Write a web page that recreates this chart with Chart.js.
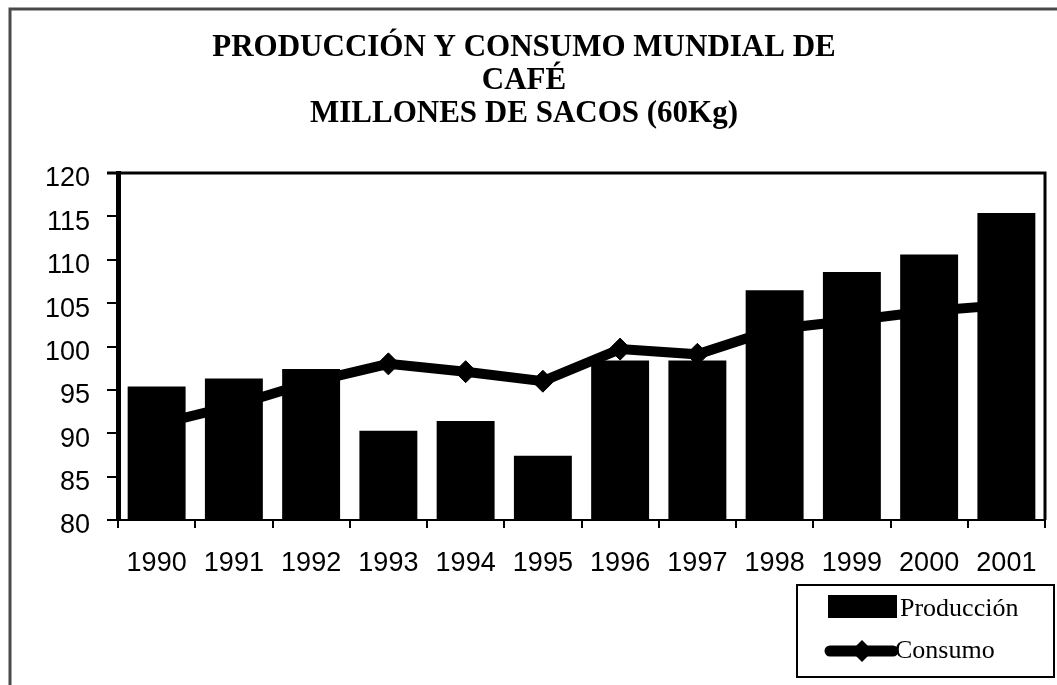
<!DOCTYPE html>
<html>
<head>
<meta charset="utf-8">
<title>Producción y consumo mundial de café</title>
<script src="https://cdn.jsdelivr.net/npm/chart.js"></script>
<style>
  html, body { margin: 0; padding: 0; background: #fff; }
  #wrap { position: relative; width: 1057px; height: 685px; }
</style>
</head>
<body>
<div id="wrap"><canvas id="chart"></canvas></div>
<script>
const years = ['1990', '1991', '1992', '1993', '1994', '1995', '1996', '1997', '1998', '1999', '2000', '2001'];
const produccion = [95.4, 96.3, 97.4, 90.3, 91.4, 87.4, 98.4, 98.4, 106.5, 108.6, 110.6, 115.4];
const consumo = [91.0, 93.2, 95.9, 98.0, 97.1, 96.0, 99.7, 99.1, 102.0, 103.0, 104.1, 104.8];
const yTicks = [80, 85, 90, 95, 100, 105, 110, 115, 120];
const titleLines = ['PRODUCCIÓN Y CONSUMO MUNDIAL DE', 'CAFÉ', 'MILLONES DE SACOS (60Kg)'];

const serif = "'Liberation Serif', 'Times New Roman', serif";
const sans = "'Liberation Sans', Arial, sans-serif";

function diamond(ctx, x, y, r) {
  ctx.beginPath();
  ctx.moveTo(x - r, y);
  ctx.lineTo(x, y - r);
  ctx.lineTo(x + r, y);
  ctx.lineTo(x, y + r);
  ctx.closePath();
  ctx.fill();
}

// outer frame + top/right border of the plot
const framePlugin = {
  id: 'frame',
  beforeDraw(chart) {
    const ctx = chart.ctx;
    ctx.save();
    ctx.strokeStyle = '#4a4a4a';
    ctx.lineWidth = 3;
    ctx.beginPath();
    ctx.moveTo(10, chart.height);
    ctx.lineTo(10, 9);
    ctx.lineTo(chart.width, 9);
    ctx.stroke();
    ctx.restore();
  },
  afterDraw(chart) {
    const { ctx, chartArea: a } = chart;
    ctx.save();
    ctx.strokeStyle = '#000';
    ctx.lineWidth = 3;
    ctx.beginPath();
    ctx.moveTo(a.left - 11, a.top);
    ctx.lineTo(a.right, a.top);
    ctx.lineTo(a.right, a.bottom);
    ctx.stroke();
    ctx.restore();
  }
};

const legendBox = { x: 797, y: 585, w: 257, h: 92 };

const legendPlugin = {
  id: 'boxLegend',
  afterDraw(chart) {
    const ctx = chart.ctx;
    const b = legendBox;
    const ds = chart.data.datasets;
    ctx.save();
    ctx.strokeStyle = '#000';
    ctx.lineWidth = 2;
    ctx.strokeRect(b.x, b.y, b.w, b.h);
    ctx.fillStyle = '#000';
    ctx.font = '26px ' + serif;
    ctx.textBaseline = 'middle';
    // Producción
    ctx.fillRect(b.x + 31, b.y + 10, 69, 23);
    ctx.fillText(ds[0].label, b.x + 103, b.y + 24);
    // Consumo
    const ly = b.y + 66;
    ctx.strokeStyle = '#000';
    ctx.lineWidth = 11;
    ctx.lineCap = 'round';
    ctx.beginPath();
    ctx.moveTo(b.x + 33, ly);
    ctx.lineTo(b.x + 96, ly);
    ctx.stroke();
    diamond(ctx, b.x + 65, ly, 11);
    ctx.fillText(ds[1].label, b.x + 98, ly);
    ctx.restore();
  }
};

new Chart(document.getElementById('chart'), {
  type: 'bar',
  data: {
    labels: years,
    datasets: [
      {
        type: 'bar',
        label: 'Producción',
        data: produccion,
        backgroundColor: '#000',
        borderColor: '#000',
        borderWidth: 0,
        categoryPercentage: 1,
        barPercentage: 0.75,
        order: 1
      },
      {
        type: 'line',
        label: 'Consumo',
        data: consumo,
        borderColor: '#000',
        borderWidth: 10,
        backgroundColor: '#000',
        pointStyle: 'rectRot',
        pointRadius: 11,
        pointBorderWidth: 1,
        pointBackgroundColor: '#000',
        tension: 0,
        order: 2
      }
    ]
  },
  options: {
    responsive: true,
    maintainAspectRatio: false,
    animation: false,
    layout: { padding: { left: 0, right: 9, top: 0, bottom: 105 } },
    plugins: {
      legend: { display: false },
      tooltip: { enabled: false },
      title: {
        display: true,
        text: titleLines,
        color: '#000',
        font: { family: serif, size: 31, weight: 'bold', lineHeight: 1.065 },
        padding: { top: 31, bottom: 43 }
      }
    },
    scales: {
      x: {
        grid: { drawOnChartArea: false, color: '#000', lineWidth: 2, tickLength: 8, offset: true },
        border: { display: true, color: '#000', width: 2 },
        ticks: { color: '#000', font: { family: sans, size: 27 }, padding: 19, maxRotation: 0, autoSkip: false },
        afterFit(axis) { axis.height = 60; }
      },
      y: {
        min: 80,
        max: 120,
        afterBuildTicks(axis) { axis.ticks = yTicks.map(v => ({ value: v })); },
        grid: { drawOnChartArea: false, color: '#000', lineWidth: 2, tickLength: 11 },
        border: { display: true, color: '#000', width: 5 },
        ticks: { color: '#000', font: { family: sans, size: 27 }, padding: 17, labelOffset: 6 },
        afterFit(axis) { axis.width = 118; }
      }
    }
  },
  plugins: [framePlugin, legendPlugin]
});
</script>
</body>
</html>
